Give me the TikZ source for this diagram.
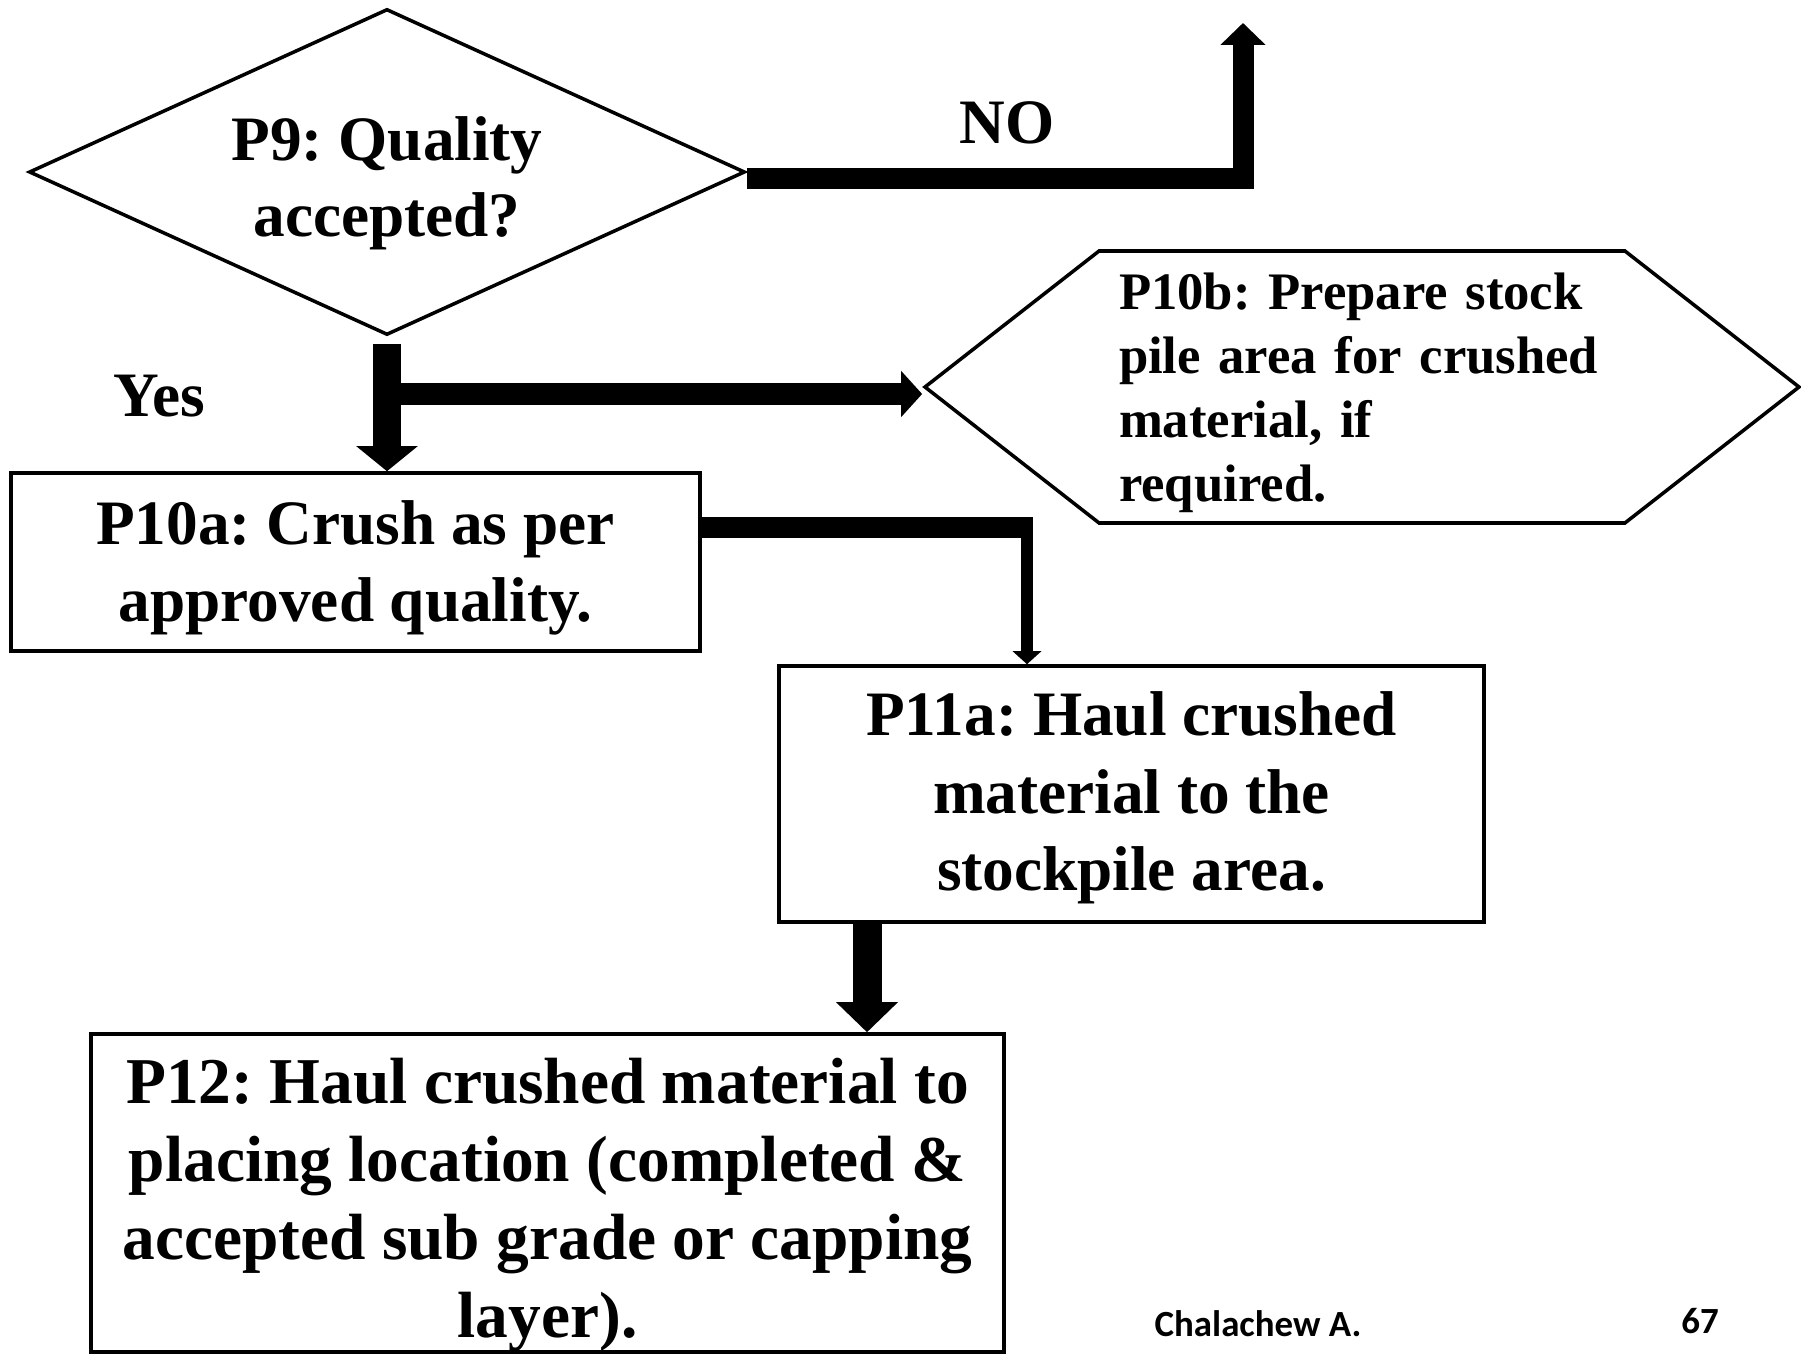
\documentclass[tikz,border=0pt]{standalone}
\usepackage{fontspec}
\setmainfont{Liberation Serif}
\newfontfamily\footfont{Carlito}
\usetikzlibrary{shapes.geometric,shapes.symbols,arrows.meta}
\frenchspacing
\newcommand{\topstrut}[1]{\rule{0pt}{#1}}

\tikzset{
  stepbox/.style={draw, line width=1pt, rectangle, inner sep=0pt, align=center,
    font=\fontsize{18}{22}\selectfont\bfseries},
  decision/.style={draw, line width=1pt, diamond, aspect=2.2, inner sep=0pt, align=center,
    font=\fontsize{18}{21.5}\selectfont\bfseries},
  prepare/.style={draw, line width=1pt, signal, signal to=east and west,
    signal pointer angle=76, inner sep=0pt, align=left,
    font=\fontsize{15}{18.2}\selectfont\bfseries},
  label/.style={font=\fontsize{18}{22}\selectfont\bfseries},
  footer/.style={font=\footfont\fontsize{10.5}{12}\selectfont\bfseries},
}

\begin{document}
\begin{tikzpicture}
        \useasboundingbox (0,0) rectangle (18.01,13.53);

        % Decision
        \node[decision, minimum width=7.16cm, minimum height=3.26cm] (p9) at (3.87,11.81)
            {\topstrut{0.66cm}P9: Quality\\accepted?};

        % Process boxes
        \node[stepbox, minimum width=6.89cm, minimum height=1.78cm] (p10a) at (3.555,7.91)
            {\topstrut{0.56cm}P10a: Crush as per\\approved quality.};
        \node[prepare, minimum width=8.74cm, minimum height=2.72cm, text width=4.86cm] (p10b) at (13.62,9.66)
            {\topstrut{0.48cm}P10b: Prepare stock\\pile area for crushed\\material, if\\required.};
        \node[stepbox, minimum width=7.05cm, minimum height=2.56cm] (p11a) at (11.315,5.59)
            {\topstrut{0.52cm}P11a: Haul crushed\\material to the\\stockpile area.};
        \node[stepbox, minimum width=9.13cm, minimum height=3.18cm, font=\fontsize{18.6}{22.2}\selectfont\bfseries] (p12) at (5.475,1.60)
            {\topstrut{0.69cm}P12: Haul crushed material to\\placing location (completed \&\\accepted sub grade or capping\\layer).};

        % Labels
        \node[label] (no) at (10.07,12.30) {NO};
        \node[label] (yes) at (1.59,9.57) {Yes};

        % Connectors
        \coordinate (noend) at (12.43,13.30);
        \coordinate (branch) at (3.87,9.59);
        \coordinate (bend) at (10.27,8.25);
        \coordinate (haul) at (8.67,0);
        \draw[line width=0.21cm, -{Triangle[width=0.44cm,length=0.22cm]}]
            ([yshift=-0.07cm]p9.east) -| (noend);
        \draw[line width=0.28cm, shorten <=0.07cm, -{Triangle[width=0.6cm,length=0.25cm]}]
            (p9.south) -- (p9.south |- p10a.north);
        \draw[line width=0.22cm, -{Triangle[width=0.45cm,length=0.21cm]}]
            (branch) -- (p10b.west |- branch);
        \draw[line width=0.21cm] (p10a.east |- bend) -- ([xshift=0.06cm]bend);
        \draw[line width=0.12cm, -{Triangle[width=0.28cm,length=0.13cm]}]
            ([yshift=0.105cm]bend) -- (bend |- p11a.north);
        \draw[line width=0.29cm, -{Triangle[width=0.6cm,length=0.3cm]}]
            (p11a.south -| haul) -- (p12.north -| haul);

        % Footer
        \node[footer] (author) at (12.58,0.29) {Chalachew A.};
        \node[footer] (page) at (17.00,0.32) {67};
\end{tikzpicture}
\end{document}
